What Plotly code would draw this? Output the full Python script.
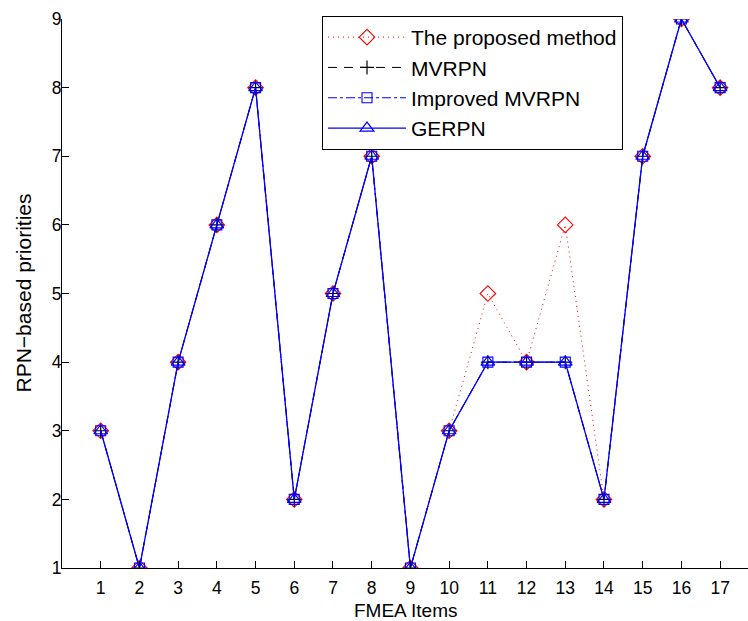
import plotly.graph_objects as go

items = list(range(1, 18))
proposed = [3, 1, 4, 6, 8, 2, 5, 7, 1, 3, 5, 4, 6, 2, 7, 9, 8]
mvrpn = [3, 1, 4, 6, 8, 2, 5, 7, 1, 3, 4, 4, 4, 2, 7, 9, 8]
improved_mvrpn = [3, 1, 4, 6, 8, 2, 5, 7, 1, 3, 4, 4, 4, 2, 7, 9, 8]
gerpn = [3, 1, 4, 6, 8, 2, 5, 7, 1, 3, 4, 4, 4, 2, 7, 9, 8]

FONT = "Liberation Sans, Arial, Helvetica, sans-serif"
L, R, T, B = 62, 0, 19, 53
W, H = 748, 621
PW, PH = W - L - R, H - T - B

fig = go.Figure()
fig.add_trace(go.Scatter(
    x=items, y=proposed, name="The proposed method", mode="lines+markers",
    line=dict(color="red", width=1, dash="1px,4px"),
    marker=dict(symbol="diamond-open", size=12, color="red", line=dict(width=1.1, color="red")),
))
fig.add_trace(go.Scatter(
    x=items, y=mvrpn, name="MVRPN", mode="lines+markers",
    line=dict(color="black", width=1, dash="9px,7px"),
    marker=dict(symbol="cross-thin-open", size=10, color="black", line=dict(width=1.2, color="black")),
))
fig.add_trace(go.Scatter(
    x=items, y=improved_mvrpn, name="Improved MVRPN", mode="lines+markers",
    line=dict(color="blue", width=1, dash="dashdot"),
    marker=dict(symbol="square-open", size=10, color="blue", line=dict(width=1.1, color="blue")),
))
fig.add_trace(go.Scatter(
    x=items, y=gerpn, name="GERPN", mode="lines+markers",
    line=dict(color="blue", width=1.3),
    marker=dict(symbol="triangle-up-open", size=12, color="blue", line=dict(width=1.2, color="blue")),
))

fig.update_layout(
    width=W, height=H,
    margin=dict(l=L, r=R, t=T, b=B),
    paper_bgcolor="white", plot_bgcolor="white",
    font=dict(family=FONT, size=18, color="black"),
    showlegend=True,
    legend=dict(
        x=(322 - L) / PW, y=1.0 + 3 / PH, xanchor="left", yanchor="top",
        bordercolor="black", borderwidth=1, bgcolor="white",
        font=dict(family=FONT, size=21, color="black"),
        itemwidth=78, tracegroupgap=0,
    ),
    annotations=[
        dict(text="FMEA Items", xref="paper", yref="paper", x=0.5, y=(568 - 610) / PH,
             xanchor="center", yanchor="middle", showarrow=False,
             font=dict(family=FONT, size=19, color="black")),
        dict(text="RPN\u2212based priorities", xref="paper", yref="paper",
             x=(23 - L) / PW, y=0.5, xanchor="center", yanchor="middle",
             textangle=-90, showarrow=False,
             font=dict(family=FONT, size=21, color="black")),
    ],
)
fig.update_xaxes(
    range=[0, 17.72], tickmode="array", tickvals=items, ticktext=[str(i) for i in items],
    ticks="inside", ticklen=7, tickcolor="black", tickwidth=1,
    showline=True, linecolor="black", linewidth=1, mirror=False,
    showgrid=False, zeroline=False, automargin=False,
    tickfont=dict(family=FONT, size=17.5), ticklabelstandoff=4,
)
fig.update_yaxes(
    range=[1, 9], tickmode="array", tickvals=list(range(1, 10)),
    ticks="inside", ticklen=7, tickcolor="black", tickwidth=1,
    showline=True, linecolor="black", linewidth=1, mirror=False,
    showgrid=False, zeroline=False, automargin=False,
    tickfont=dict(family=FONT, size=17.5), ticklabelstandoff=-4,
)

fig.write_html(
    "out.html",
    config={"displayModeBar": False},
    post_script="document.body.style.margin='0';document.body.style.padding='0';document.body.style.overflow='hidden';",
)
